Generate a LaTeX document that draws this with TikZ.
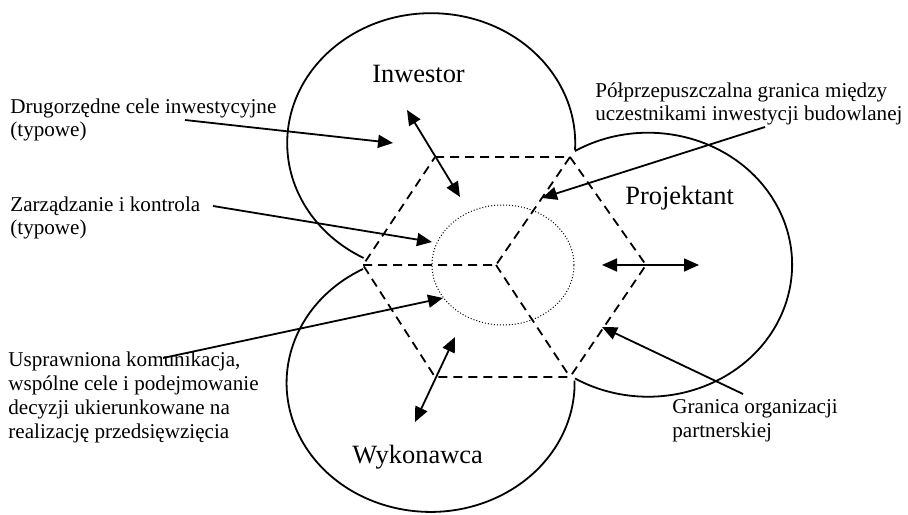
\documentclass[tikz,border=0pt]{standalone}
\usepackage{fontspec}
\setmainfont{Liberation Serif}
\usetikzlibrary{arrows.meta}

\begin{document}
\begin{tikzpicture}[x=0.5pt,y=0.5pt,
  party/.style={line width=0.9pt},
  border/.style={line width=0.9pt,dash pattern=on 4.5pt off 3pt},
  core/.style={line width=0.5pt,dash pattern=on 0.5pt off 1pt},
  pointer/.style={line width=0.9pt,-{Triangle[length=7.5pt,width=6.5pt]}},
  twoway/.style={line width=0.9pt,{Triangle[length=7.5pt,width=6.5pt]}-{Triangle[length=7.5pt,width=6.5pt]}},
  side/.style={font=\fontsize{13.2}{15}\selectfont,anchor=base west,inner sep=0pt},
  note/.style={font=\fontsize{10.55}{11.85}\selectfont,anchor=base west,align=left,inner sep=0pt}]
\useasboundingbox (0,0) rectangle (908,514);
% the three parties
\draw[party] (575,364) arc[start angle=-3,end angle=242,x radius=72pt,y radius=65pt];
\draw[party] (363,245) arc[start angle=118,end angle=361,x radius=72pt,y radius=64.5pt];
\draw[party] (575,363) arc[start angle=120.5,end angle=-120.5,x radius=72pt,y radius=66pt];
\node[side] (inw) at (372,431) {Inwestor};
\node[side] (pro) at (625,309) {Projektant};
\node[side] (wyk) at (352,51) {Wykonawca};
% partnering boundary
\coordinate (tl) at (435,357);
\coordinate (tr) at (570,357);
\coordinate (r) at (646,249);
\coordinate (br) at (570,137);
\coordinate (bl) at (435,137);
\coordinate (l) at (363,249);
\coordinate (c) at (496,249);
\draw[border] (tl)--(tr)--(r)--(br)--(bl)--(l)--cycle;
\draw[border] (l)--(c)--(tr) (c)--(br);
\draw[core] (503,249) ellipse [x radius=35.5pt,y radius=30pt];
% exchange between parties
\coordinate (inwA) at (407,404);
\coordinate (inwB) at (460,317);
\coordinate (wykA) at (455,177);
\coordinate (wykB) at (415,92);
\coordinate (proA) at (602,249);
\coordinate (proB) at (699,249);
\draw[twoway] (inwA)--(inwB);
\draw[twoway] (wykA)--(wykB);
\draw[twoway] (proA)--(proB);
% labels (base = last line)
\node[note] (cele) at (10,377) {Drugorzędne cele inwestycyjne\\(typowe)};
\node[note] (zarz) at (10,279) {Zarządzanie i kontrola\\(typowe)};
\node[note] (kom) at (8,76) {Usprawniona komunikacja,\\wspólne cele i podejmowanie\\decyzji ukierunkowane na\\realizację przedsięwzięcia};
\node[note] (pol) at (595,393) {Półprzepuszczalna granica między\\uczestnikami inwestycji budowlanej};
\node[note] (gran) at (672,77) {Granica organizacji\\partnerskiej};
\coordinate (celeT) at (185,394);
\coordinate (celeH) at (393,371);
\coordinate (zarzT) at (213,308);
\coordinate (zarzH) at (432,272);
\coordinate (komT) at (163,156);
\coordinate (komH) at (443,216);
\coordinate (polT) at (765,387);
\coordinate (polH) at (542,316);
\coordinate (granT) at (743,120);
\coordinate (granH) at (602,187);
\draw[pointer] (celeT)--(celeH);
\draw[pointer] (zarzT)--(zarzH);
\draw[pointer] (komT)--(komH);
\draw[pointer] (polT)--(polH);
\draw[pointer] (granT)--(granH);
\end{tikzpicture}
\end{document}
